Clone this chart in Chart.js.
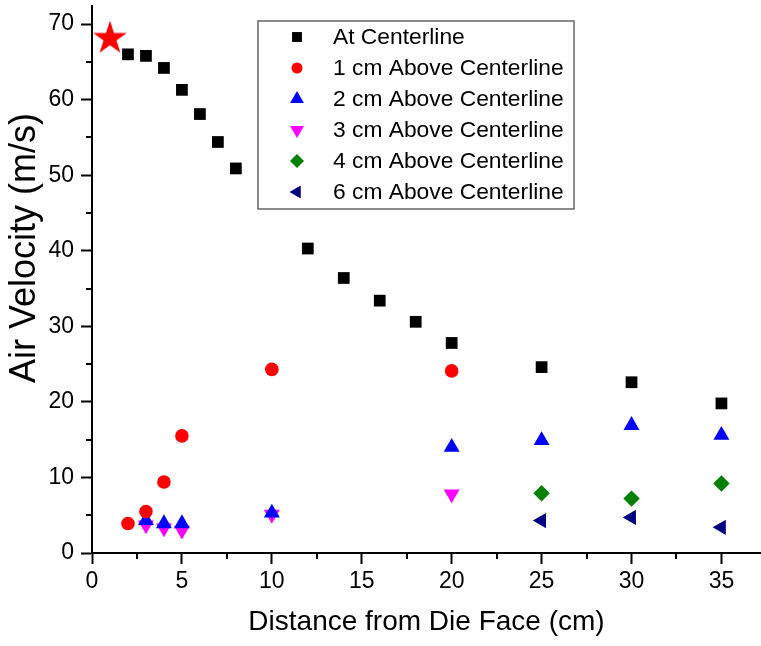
<!DOCTYPE html>
<html>
<head>
<meta charset="utf-8">
<title>Air Velocity vs Distance</title>
<script src="https://cdn.jsdelivr.net/npm/chart.js@4"></script>
<style>
  html, body { margin: 0; padding: 0; background: #fff; }
  canvas { display: block; }
</style>
</head>
<body>
<canvas id="myChart" width="761" height="646"></canvas>
<script>
// distance from die face (cm) and air velocity (m/s) per probe height
var distCenter = [2, 3, 4, 5, 6, 7, 8, 12, 14, 16, 18, 20, 25, 30, 35];
var velCenter  = [66.0, 65.8, 64.2, 61.3, 58.1, 54.4, 50.9, 40.3, 36.4, 33.4, 30.6, 27.8, 24.6, 22.6, 19.8];

var dist1cm = [2, 3, 4, 5, 10, 20];
var vel1cm  = [3.9, 5.5, 9.4, 15.5, 24.3, 24.1];

var dist2cm = [3, 4, 5, 10, 20, 25, 30, 35];
var vel2cm  = [4.3, 3.9, 3.9, 5.3, 14.0, 14.9, 16.9, 15.6];

var dist3cm = [3, 4, 5, 10, 20];
var vel3cm  = [3.7, 3.3, 3.0, 5.1, 7.8];

var dist4cm = [25, 30, 35];
var vel4cm  = [7.9, 7.2, 9.2];

var dist6cm = [25, 30, 35];
var vel6cm  = [4.3, 4.7, 3.4];

// exit velocity at the die face
var dieFaceDist = [1];
var dieFaceVel  = [68.1];

var seriesNames = [
    'At Centerline',
    '1 cm Above Centerline',
    '2 cm Above Centerline',
    '3 cm Above Centerline',
    '4 cm Above Centerline',
    '6 cm Above Centerline'
];

var xMajorTicks = [0, 5, 10, 15, 20, 25, 30, 35];
var yMajorTicks = [0, 10, 20, 30, 40, 50, 60, 70];

var FONT = 'Arial, "Liberation Sans", sans-serif';

function points(xs, ys) {
    return xs.map(function(x, i) { return {x: x, y: ys[i]}; });
}

function starImage(r, color) {
    var s = Math.ceil(r * 2) + 2;
    var c = document.createElement('canvas');
    c.width = s;
    c.height = s;
    var g = c.getContext('2d');
    g.fillStyle = color;
    g.beginPath();
    for (var i = 0; i < 10; i++) {
        var a = -Math.PI / 2 + i * Math.PI / 5;
        var rr = (i % 2) ? r * 0.382 : r;
        g.lineTo(s / 2 + rr * Math.cos(a), s / 2 + rr * Math.sin(a));
    }
    g.closePath();
    g.fill();
    return c;
}

function series(label, xs, ys, color, style, radius, rotation) {
    return {
        label: label,
        data: points(xs, ys),
        backgroundColor: color,
        borderColor: color,
        pointStyle: style,
        pointRadius: radius,
        pointHoverRadius: radius,
        pointRotation: rotation || 0,
        pointBorderWidth: 0,
        showLine: false
    };
}

var datasets = [
    series(seriesNames[0], distCenter, velCenter, '#000000', 'rect', 8.3),
    series(seriesNames[1], dist1cm, vel1cm, '#ff0000', 'circle', 6.8),
    series(seriesNames[2], dist2cm, vel2cm, '#0000ff', 'triangle', 9.2),
    series(seriesNames[3], dist3cm, vel3cm, '#ff00ff', 'triangle', 9.2, 180),
    series(seriesNames[4], dist4cm, vel4cm, '#008000', 'rectRot', 8.2),
    series(seriesNames[5], dist6cm, vel6cm, '#000080', 'triangle', 8.8, 270),
    series('Die Face', dieFaceDist, dieFaceVel, '#ff0000', starImage(17.7, '#ff0000'), 18)
];

// legend markers are a bit smaller than the plotted ones
var legendRadius = [7, 5.5, 8, 8, 7, 7.5];

var minorTicks = {
    id: 'minorTicks',
    afterDraw: function(chart) {
        var ctx = chart.ctx;
        var xs = chart.scales.x, ys = chart.scales.y;
        ctx.save();
        ctx.strokeStyle = '#000';
        ctx.lineWidth = 2;
        xs.ticks.forEach(function(t) {
            if (xMajorTicks.indexOf(t.value) >= 0) return;
            var px = Math.round(xs.getPixelForValue(t.value));
            ctx.beginPath();
            ctx.moveTo(px, xs.top);
            ctx.lineTo(px, xs.top + 6);
            ctx.stroke();
        });
        ys.ticks.forEach(function(t) {
            if (yMajorTicks.indexOf(t.value) >= 0) return;
            var py = Math.round(ys.getPixelForValue(t.value));
            ctx.beginPath();
            ctx.moveTo(ys.right, py);
            ctx.lineTo(ys.right - 6, py);
            ctx.stroke();
        });
        ctx.restore();
    }
};

var yTitle = {
    id: 'yTitle',
    afterDraw: function(chart) {
        var ctx = chart.ctx;
        ctx.save();
        ctx.translate(25, 248);
        ctx.rotate(-Math.PI / 2);
        ctx.fillStyle = '#000';
        ctx.font = '36px ' + FONT;
        ctx.textAlign = 'center';
        ctx.textBaseline = 'middle';
        ctx.fillText('Air Velocity (m/s)', 0, 0);
        ctx.restore();
    }
};

var boxLegend = {
    id: 'boxLegend',
    afterDatasetsDraw: function(chart) {
        var ctx = chart.ctx;
        var left = 258, top = 21, right = 574, bottom = 209;
        ctx.save();
        ctx.fillStyle = '#fff';
        ctx.fillRect(left, top, right - left, bottom - top);
        ctx.strokeStyle = '#666';
        ctx.lineWidth = 1.5;
        ctx.strokeRect(left, top, right - left, bottom - top);
        ctx.font = '22.8px ' + FONT;
        ctx.textBaseline = 'middle';
        ctx.textAlign = 'left';
        for (var i = 0; i < seriesNames.length; i++) {
            var ds = chart.data.datasets[i];
            var y = 37 + i * 31;
            ctx.fillStyle = ds.backgroundColor;
            Chart.helpers.drawPoint(ctx, {
                pointStyle: ds.pointStyle,
                rotation: ds.pointRotation,
                radius: legendRadius[i],
                borderWidth: 0
            }, 297, y);
            ctx.fillStyle = '#000';
            ctx.fillText(seriesNames[i], 333, y + 1);
        }
        ctx.restore();
    }
};

var ctx = document.getElementById('myChart');

var myChart = new Chart(ctx, {
    type: 'scatter',
    data: { datasets: datasets },
    plugins: [minorTicks, yTitle, boxLegend],
    options: {
        responsive: false,
        animation: false,
        devicePixelRatio: 1,
        layout: {
            autoPadding: false,
            padding: { top: 6, right: 0, bottom: 0, left: 0 }
        },
        plugins: {
            legend: { display: false },
            tooltip: { enabled: false }
        },
        scales: {
            x: {
                type: 'linear',
                min: 0,
                max: 37.2,
                border: { display: true, color: '#000', width: 2 },
                grid: {
                    display: true,
                    drawOnChartArea: false,
                    drawTicks: true,
                    tickLength: 11,
                    tickWidth: 2,
                    tickColor: function(c) {
                        return c.tick && xMajorTicks.indexOf(c.tick.value) >= 0 ? '#000' : 'rgba(0,0,0,0)';
                    }
                },
                ticks: {
                    stepSize: 2.5,
                    includeBounds: false,
                    autoSkip: false,
                    maxRotation: 0,
                    padding: 4,
                    color: '#000',
                    font: { family: FONT, size: 23 },
                    callback: function(v) {
                        return xMajorTicks.indexOf(v) >= 0 ? String(v) : '';
                    }
                },
                title: {
                    display: true,
                    text: 'Distance from Die Face (cm)',
                    color: '#000',
                    font: { family: FONT, size: 28 },
                    padding: { top: 0, bottom: 7 }
                },
                afterFit: function(scale) {
                    scale.height = 93;
                    scale.paddingLeft = 0;
                    scale.paddingRight = 0;
                }
            },
            y: {
                type: 'linear',
                min: 0,
                max: 72.4,
                border: { display: true, color: '#000', width: 2 },
                grid: {
                    display: true,
                    drawOnChartArea: false,
                    drawTicks: true,
                    tickLength: 11,
                    tickWidth: 2,
                    tickColor: function(c) {
                        return c.tick && yMajorTicks.indexOf(c.tick.value) >= 0 ? '#000' : 'rgba(0,0,0,0)';
                    }
                },
                ticks: {
                    stepSize: 5,
                    includeBounds: false,
                    autoSkip: false,
                    padding: 7,
                    color: '#000',
                    font: { family: FONT, size: 23 },
                    callback: function(v) {
                        return yMajorTicks.indexOf(v) >= 0 ? String(v) : '';
                    }
                },
                afterFit: function(scale) {
                    scale.width = 92;
                    scale.paddingTop = 0;
                    scale.paddingBottom = 0;
                }
            }
        }
    }
});
</script>
</body>
</html>
